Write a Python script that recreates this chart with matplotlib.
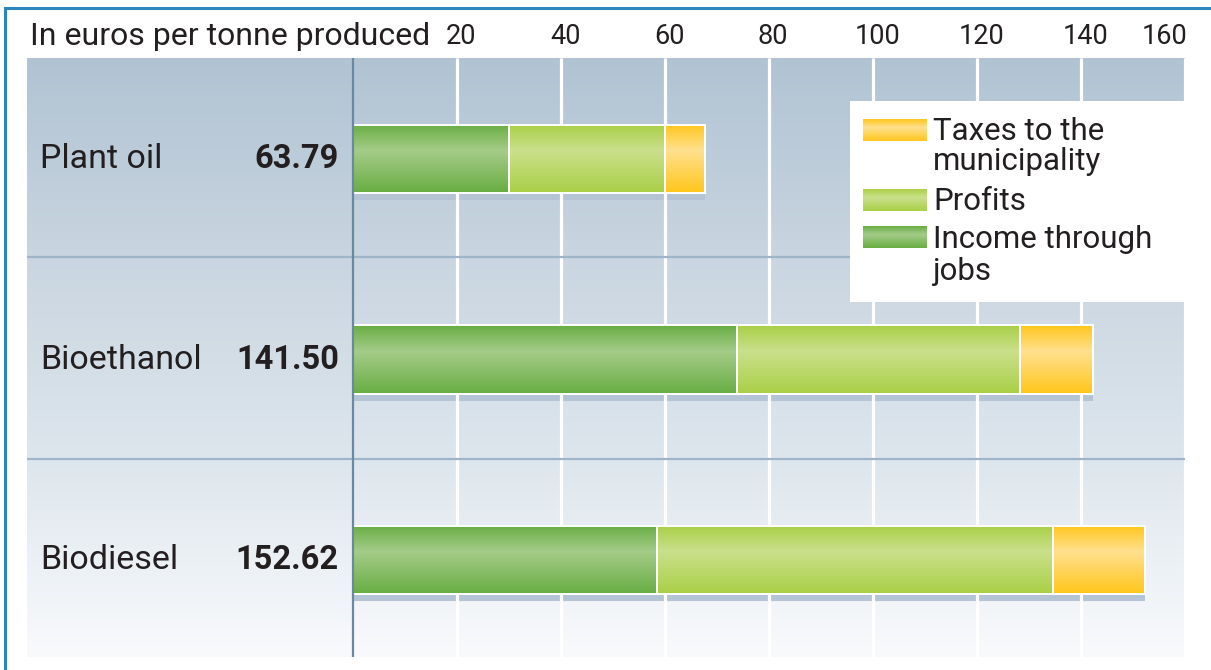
import numpy as np
import matplotlib
matplotlib.use("Agg")
import matplotlib.pyplot as plt
from matplotlib.colors import LinearSegmentedColormap
from matplotlib.patches import Rectangle

# --- data ---
categories = ['Plant oil', 'Bioethanol', 'Biodiesel']
total_labels = ['63.79', '141.50', '152.62']
jobs = [30.0, 73.8, 58.5]
profits = [30.0, 54.4, 76.1]
taxes = [7.7, 14.2, 17.7]
ticks = [20, 40, 60, 80, 100, 120, 140, 160]
legend_labels = [['Taxes to the', 'municipality'], ['Profits'], ['Income through', 'jobs']]

plt.rcParams['font.family'] = ['Roboto', 'DejaVu Sans']
TXT = '#231f20'

W, H = 1211, 670
fig = plt.figure(figsize=(W / 100, H / 100), dpi=100)
fig.patch.set_facecolor('white')

# panel in pixels
px_left, px_right, px_top, px_bot = 27, 1185, 58, 657
ax = fig.add_axes([px_left / W, 1 - px_bot / H,
                   (px_right - px_left) / W, (px_bot - px_top) / H])
x_min = -(353 - px_left) / 5.2
ax.axis('off')

# background gradient
bg = LinearSegmentedColormap.from_list('bg', ['#b1c3d3', '#c9d5e0', '#dde6ed', '#f9fafc'])
grad = np.linspace(0, 1, 256).reshape(-1, 1)
ax.imshow(grad, cmap=bg, aspect='auto', extent=(x_min, 160, 2.485, -0.505),
          zorder=0, interpolation='bicubic')

bar_h = 0.34
y = np.arange(len(categories))

# shadow strips under bars
totals = np.array(jobs) + np.array(profits) + np.array(taxes)
for yi, tot in zip(y, totals):
    ax.add_patch(Rectangle((0, yi + bar_h / 2), tot, 0.035,
                           facecolor='#b4c4d4', edgecolor='none', zorder=1))

# white grid
for t in ticks:
    ax.plot([t, t], [2.485, -0.505], color='white', lw=2.3, zorder=2,
            solid_capstyle='butt')

# separators
for s in [0.49, 1.495]:
    ax.plot([x_min, 160], [s, s], color='#9fb4c9', lw=1.6, zorder=2)


def gradient_cmap(edge, mid):
    return LinearSegmentedColormap.from_list(
        'g', [(0, edge), (0.38, mid), (1, edge)])


seg_colors = [('#68ad43', '#a5cc88'), ('#a9cf45', '#cae08c'), ('#ffc61a', '#ffe08f')]
series = [jobs, profits, taxes]

left = np.zeros(len(categories))
for vals, (c_edge, c_mid) in zip(series, seg_colors):
    cm = gradient_cmap(c_edge, c_mid)
    for yi, l, v in zip(y, left, vals):
        ax.imshow(grad, cmap=cm, aspect='auto',
                  extent=(l, l + v, yi + bar_h / 2, yi - bar_h / 2),
                  zorder=3, interpolation='bicubic')
        ax.add_patch(Rectangle((l, yi - bar_h / 2), v, bar_h, facecolor='none',
                               edgecolor='white', lw=1.4, zorder=4))
    left = left + np.array(vals)

ax.set_xlim(x_min, 160)
ax.set_ylim(2.485, -0.505)

# zero line
ax.plot([0, 0], [2.485, -0.505], color='#6b88a3', lw=1.6, zorder=5)

# category names and totals
for yi, name, tl in zip(y, categories, total_labels):
    ax.text((40 - 353) / 5.2, yi, name, ha='left', va='center',
            fontsize=24.5, color=TXT, zorder=6)
    ax.text((339 - 353) / 5.2, yi, tl, ha='right', va='center',
            fontsize=23.5, fontweight='bold', color=TXT, zorder=6)

# tick labels on top
for t in ticks:
    if t == 160:
        ax.text(160.5, -0.61, str(t), ha='right', va='center', fontsize=19.5,
                color=TXT, clip_on=False)
    else:
        ax.text(t + 0.8, -0.61, str(t), ha='center', va='center', fontsize=19.5,
                color=TXT, clip_on=False)
ax.text((30 - 353) / 5.2, -0.61, 'In euros per tonne produced', ha='left',
        va='center', fontsize=23, color=TXT, clip_on=False)

# legend box (pixel coordinates)
lx0, ly0, lw, lh = 850, 101, 335, 201
lax = fig.add_axes([lx0 / W, 1 - (ly0 + lh) / H, lw / W, lh / H])
lax.axis('off')
lax.add_patch(Rectangle((0, 0), lw, lh, facecolor='white', edgecolor='none', zorder=0))
legend_colors = [seg_colors[2], seg_colors[1], seg_colors[0]]
patch_y = [18, 88, 125]
text_y = [[30, 61], [101], [138, 170]]
for (c_edge, c_mid), py, tys, labs in zip(legend_colors, patch_y, text_y, legend_labels):
    cm = gradient_cmap(c_edge, c_mid)
    lax.imshow(grad, cmap=cm, aspect='auto', extent=(13, 77, py + 22, py),
               interpolation='bicubic', zorder=2)
    for ty, lab in zip(tys, labs):
        lax.text(83, ty, lab, ha='left', va='center', fontsize=22.5, color=TXT, zorder=3)
lax.set_xlim(0, lw)
lax.set_ylim(lh, 0)

# frame lines top and left
fig.add_artist(plt.Line2D([5 / W, 1], [1 - 7.5 / H, 1 - 7.5 / H],
                          color='#2b87bb', lw=2.2, transform=fig.transFigure))
fig.add_artist(plt.Line2D([5 / W, 5 / W], [0, 1 - 7.5 / H],
                          color='#2b87bb', lw=2.2, transform=fig.transFigure))

fig.savefig('out.png', dpi=100)
